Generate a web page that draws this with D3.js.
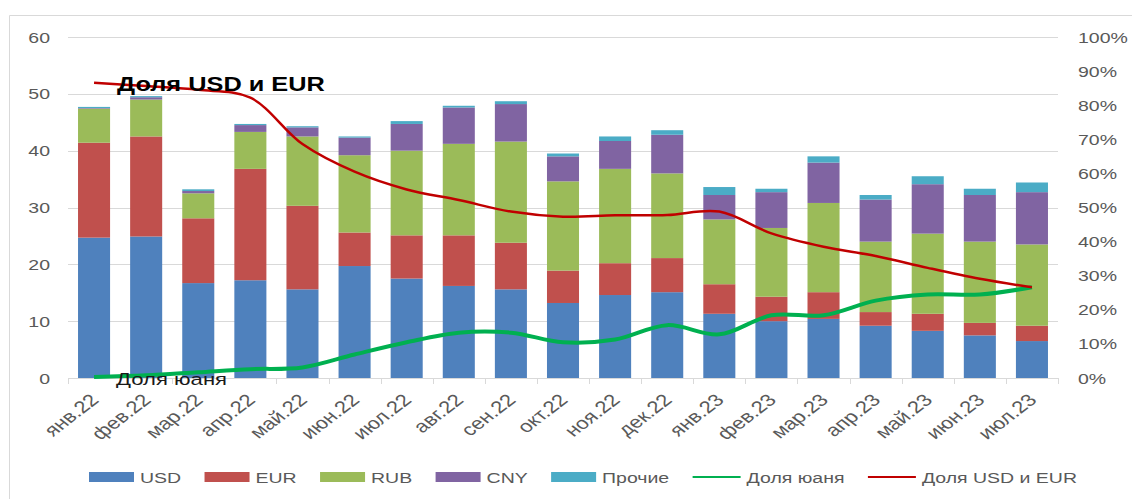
<!DOCTYPE html>
<html>
<head>
<meta charset="utf-8">
<script src="https://cdn.jsdelivr.net/npm/d3@7"></script>
<style>
  body { margin: 0; background: #fff; }
  svg { display: block; font-family: "Liberation Sans", Arial, sans-serif; }
</style>
</head>
<body>
<div id="chart"></div>
<script>
// Data
var months = ["янв.22","фев.22","мар.22","апр.22","май.22","июн.22","июл.22","авг.22","сен.22","окт.22",
              "ноя.22","дек.22","янв.23","фев.23","мар.23","апр.23","май.23","июн.23","июл.23"];
var usd   = [24.7,24.9,16.7,17.2,15.6,19.7,17.5,16.2,15.6,13.2,14.6,15.1,11.3,10.0,10.4,9.2,8.3,7.5,6.5];
var eur   = [16.7,17.6,11.4,19.6,14.7,5.9,7.6,8.9,8.2,5.7,5.6,6.0,5.2,4.3,4.7,2.4,3.0,2.2,2.7];
var rub   = [6.0,6.5,4.4,6.5,12.2,13.6,14.9,16.1,17.8,15.7,16.6,14.9,11.4,12.1,15.7,12.4,14.1,14.3,14.3];
var cny   = [0.1,0.4,0.4,1.2,1.6,3.1,4.7,6.4,6.6,4.4,4.9,6.8,4.3,6.3,7.1,7.4,8.7,8.2,9.2];
var other = [0.2,0.2,0.3,0.2,0.2,0.2,0.5,0.3,0.5,0.5,0.8,0.8,1.4,0.6,1.1,0.8,1.4,1.1,1.7];
var cnyShare    = [0.3,0.8,1.7,2.6,3.1,6.9,10.5,13.3,13.3,10.5,11.3,15.5,12.8,18.4,18.4,22.7,24.5,24.5,26.6];
var usdEurShare = [86.6,85.6,84.5,82.2,68.6,60.5,55.3,52.2,48.8,47.3,47.7,47.8,48.8,42.4,38.5,35.8,32.3,29.1,26.6];

var seriesKeys = ["USD","EUR","RUB","CNY","Прочие"];
var seriesColors = ["#4f81bd","#c0504d","#9bbb59","#8064a2","#4bacc6"];
var leftTicks = [0,10,20,30,40,50,60];
var rightTicks = [0,10,20,30,40,50,60,70,80,90,100];

var svgWidth = 1132, svgHeight = 499;
var margin = {top: 37, right: 74, bottom: 121, left: 68};
var width = svgWidth - margin.left - margin.right;
var height = svgHeight - margin.top - margin.bottom;
var stretch = 1.3;   // the picture's text is wide
var grey = "#595959";

var svg = d3.select("#chart").append("svg")
  .attr("width", svgWidth)
  .attr("height", svgHeight);

// frame
svg.append("path")
  .attr("d", "M9.5," + svgHeight + "V15.5H" + svgWidth)
  .attr("fill", "none").attr("stroke", "#d9d9d9");

var g = svg.append("g").attr("transform", `translate(${margin.left},${margin.top})`);

var rows = months.map(function(m, i) {
  return {month: m, "USD": usd[i], "EUR": eur[i], "RUB": rub[i], "CNY": cny[i], "Прочие": other[i]};
});

var x = d3.scaleBand().domain(months).range([0, width]).paddingInner(0.385).paddingOuter(0.1925);
var y = d3.scaleLinear().domain([0, 60]).range([height, 0]);
var y2 = d3.scaleLinear().domain([0, 100]).range([height, 0]);

// grid
g.append("g").selectAll("line").data(leftTicks.slice(1)).enter().append("line")
  .attr("x1", 0).attr("x2", width)
  .attr("y1", d => Math.round(y(d)) + 0.5).attr("y2", d => Math.round(y(d)) + 0.5)
  .attr("stroke", "#d9d9d9").attr("stroke-width", 1);

// bars
var stacked = d3.stack().keys(seriesKeys)(rows);
g.append("g").selectAll("g").data(stacked).enter().append("g")
  .attr("fill", (d, i) => seriesColors[i])
  .selectAll("rect").data(d => d).enter().append("rect")
  .attr("x", d => x(d.data.month))
  .attr("width", x.bandwidth())
  .attr("y", d => y(d[1]))
  .attr("height", d => y(d[0]) - y(d[1]));

// x axis line and ticks
var axis = g.append("g").attr("transform", `translate(0,${height})`);
axis.append("line").attr("x1", 0).attr("x2", width).attr("y1", 0.5).attr("y2", 0.5)
  .attr("stroke", "#d9d9d9");
axis.selectAll(".tk").data(d3.range(months.length + 1)).enter().append("line")
  .attr("x1", i => Math.round(i * x.step()) + 0.5).attr("x2", i => Math.round(i * x.step()) + 0.5)
  .attr("y1", 0).attr("y2", 6).attr("stroke", "#d9d9d9");

axis.selectAll(".lab").data(months).enter().append("text")
  .attr("transform", d => `translate(${x(d) + x.bandwidth() / 2 + 6},${23}) scale(${stretch},1) rotate(-45)`)
  .attr("text-anchor", "end")
  .attr("font-size", 17)
  .attr("fill", grey)
  .text(d => d);

// left / right tick labels
g.append("g").selectAll("text").data(leftTicks).enter().append("text")
  .attr("transform", d => `translate(-18,${y(d) + 5.5}) scale(${stretch},1)`)
  .attr("text-anchor", "end").attr("font-size", 15).attr("fill", grey)
  .text(d => d);

g.append("g").selectAll("text").data(rightTicks).enter().append("text")
  .attr("transform", d => `translate(${width + 20},${y2(d) + 5.5}) scale(${stretch},1)`)
  .attr("text-anchor", "start").attr("font-size", 15).attr("fill", grey)
  .text(d => d + "%");

// lines
var cx = i => x(months[i]) + x.bandwidth() / 2;
var lineCny = d3.line().x((d, i) => cx(i)).y(d => y2(d)).curve(d3.curveCatmullRom);
g.append("path").datum(cnyShare).attr("d", lineCny)
  .attr("fill", "none").attr("stroke", "#00b050").attr("stroke-width", 4);
g.append("path").datum(usdEurShare).attr("d", lineCny)
  .attr("fill", "none").attr("stroke", "#c00000").attr("stroke-width", 2.5);

// in-chart labels
g.append("text")
  .attr("transform", `translate(${cx(0) + 23},${y2(usdEurShare[0]) + 8}) scale(${stretch},1)`)
  .attr("font-size", 19.5).attr("font-weight", "bold").attr("fill", "#000")
  .text("Доля USD и EUR");
g.append("text")
  .attr("transform", `translate(${cx(0) + 22},${y2(cnyShare[0]) + 8}) scale(${stretch},1)`)
  .attr("font-size", 17).attr("fill", "#1a1a1a")
  .text("Доля юаня");

// legend
var legendItems = seriesKeys.map((k, i) => ({name: k, color: seriesColors[i], type: "rect"}))
  .concat([{name: "Доля юаня", color: "#00b050", type: "line"},
           {name: "Доля USD и EUR", color: "#c00000", type: "line"}]);
var legend = svg.append("g").attr("transform", "translate(0,477)");
var items = legend.selectAll("g").data(legendItems).enter().append("g");
items.each(function(d) {
  var it = d3.select(this);
  if (d.type === "rect") {
    it.append("rect").attr("x", 0).attr("y", -5).attr("width", 45).attr("height", 10).attr("fill", d.color);
  } else {
    it.append("line").attr("x1", 0).attr("x2", 48).attr("y1", 0).attr("y2", 0)
      .attr("stroke", d.color).attr("stroke-width", 2);
  }
  var sw = d.type === "rect" ? 45 : 48;
  var t = it.append("text")
    .attr("transform", `translate(${sw + 6},5.5) scale(${stretch},1)`)
    .attr("font-size", 15).attr("fill", grey).text(d.name);
  d.w = sw + 6 + t.node().getComputedTextLength() * stretch;
});
var legStart = 89, legEnd = 1077;
var totalW = d3.sum(legendItems, d => d.w);
var gap = (legEnd - legStart - totalW) / (legendItems.length - 1);
var pos = legStart;
items.attr("transform", function(d) {
  var p = pos; pos += d.w + gap;
  return `translate(${p},0)`;
});
</script>
</body>
</html>
